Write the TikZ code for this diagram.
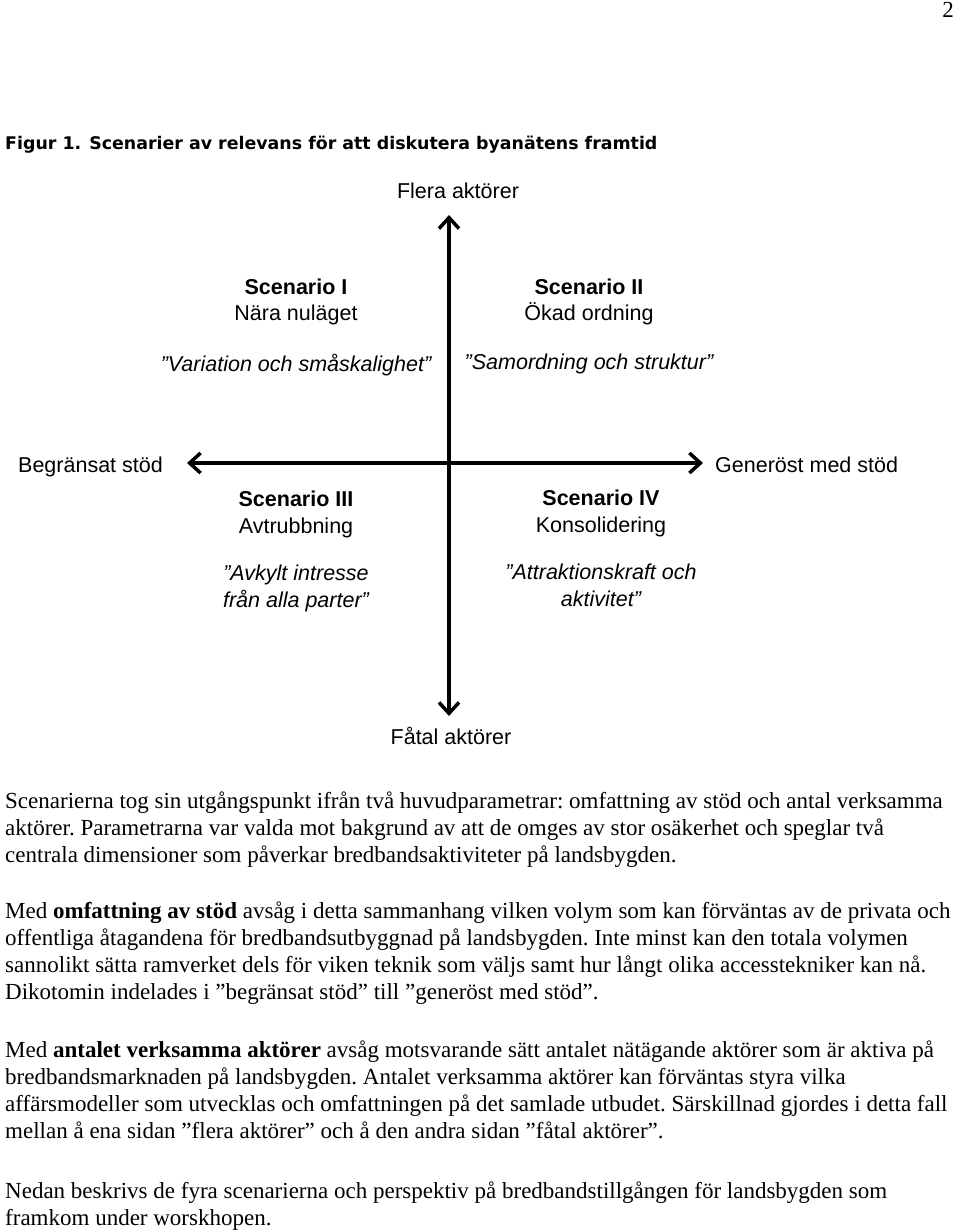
\documentclass[tikz,border=0pt]{standalone}
\usepackage{fontspec}
\setmainfont{Liberation Serif}
\newfontfamily\diafont{Liberation Sans}
\newfontfamily\titlefont{DejaVu Sans}
\usetikzlibrary{arrows.meta}

\tikzset{
  body/.style={anchor=base west, inner sep=0pt, align=left,
    font=\frenchspacing\fontsize{23}{26.8}\selectfont},
  dia/.style={inner sep=0pt, align=center,
    font=\diafont\fontsize{21.5}{26.5}\selectfont},
  axis/.style={line width=3.5pt, {Straight Barb[length=11pt,width=20pt]}-{Straight Barb[length=11pt,width=20pt]}}
}

\begin{document}
\begin{tikzpicture}[x=1pt,y=-1pt]
	\useasboundingbox (0,0) rectangle (960,1231);
	% page number and caption
	\node (page) at (948,18)	[anchor=base, inner sep=0pt, font=\fontsize{23}{26}\selectfont]	{2};
	\node (title) at (5,149)	[anchor=base west, inner sep=0pt, font=\titlefont\bfseries\fontsize{17.4}{20}\selectfont]	{Figur 1. Scenarier av relevans för att diskutera byanätens framtid};

	% axes
	\coordinate (top) at (449,215);
	\coordinate (bottom) at (449,716);
	\coordinate (left) at (187,463);
	\coordinate (right) at (703,463);
	\draw[axis] (left) -- (right);
	\draw[axis] (bottom) -- (top);

	\node (many) at (458,198)	[dia, anchor=base]	{Flera aktörer};
	\node (few) at (451,744)	[dia, anchor=base]	{Fåtal aktörer};
	\node (limited) at (18,472)	[dia, anchor=base west]	{Begränsat stöd};
	\node (generous) at (715,472)	[dia, anchor=base west]	{Generöst med stöd};

	% the four scenarios (anchored at the last line)
	\node (s1) at (296,371)	[dia, anchor=base]	{\bfseries Scenario I\\Nära nuläget\\[24pt]\itshape ”Variation och småskalighet”};
	\node (s2) at (589,369)	[dia, anchor=base]	{\bfseries Scenario II\\Ökad ordning\\[22pt]\itshape ”Samordning och struktur”};
	\node (s3) at (296,607)	[dia, anchor=base]	{\bfseries Scenario III\\Avtrubbning\\[21pt]\itshape ”Avkylt intresse\\\itshape från alla parter”};
	\node (s4) at (601,606)	[dia, anchor=base]	{\bfseries Scenario IV\\Konsolidering\\[21pt]\itshape ”Attraktionskraft och\\\itshape aktivitet”};

	% running text (anchored at the last line)
	\node (p1) at (5,862)	[body]	{Scenarierna tog sin utgångspunkt ifrån två huvudparametrar: omfattning av stöd och antal verksamma\\
	aktörer. Parametrarna var valda mot bakgrund av att de omges av stor osäkerhet och speglar två\\
	centrala dimensioner som påverkar bredbandsaktiviteter på landsbygden.};
	\node (p2) at (5,999)	[body]	{Med \textbf{omfattning av stöd} avsåg i detta sammanhang vilken volym som kan förväntas av de privata och\\
	offentliga åtagandena för bredbandsutbyggnad på landsbygden. Inte minst kan den totala volymen\\
	sannolikt sätta ramverket dels för viken teknik som väljs samt hur långt olika accesstekniker kan nå.\\
	Dikotomin indelades i ”begränsat stöd” till ”generöst med stöd”.};
	\node (p3) at (5,1138)	[body]	{Med \textbf{antalet verksamma aktörer} avsåg motsvarande sätt antalet nätägande aktörer som är aktiva på\\
	bredbandsmarknaden på landsbygden. Antalet verksamma aktörer kan förväntas styra vilka\\
	affärsmodeller som utvecklas och omfattningen på det samlade utbudet. Särskillnad gjordes i detta fall\\
	mellan å ena sidan ”flera aktörer” och å den andra sidan ”fåtal aktörer”.};
	\node (p4) at (5,1225)	[body]	{Nedan beskrivs de fyra scenarierna och perspektiv på bredbandstillgången för landsbygden som\\
	framkom under worskhopen.};
\end{tikzpicture}
\end{document}
